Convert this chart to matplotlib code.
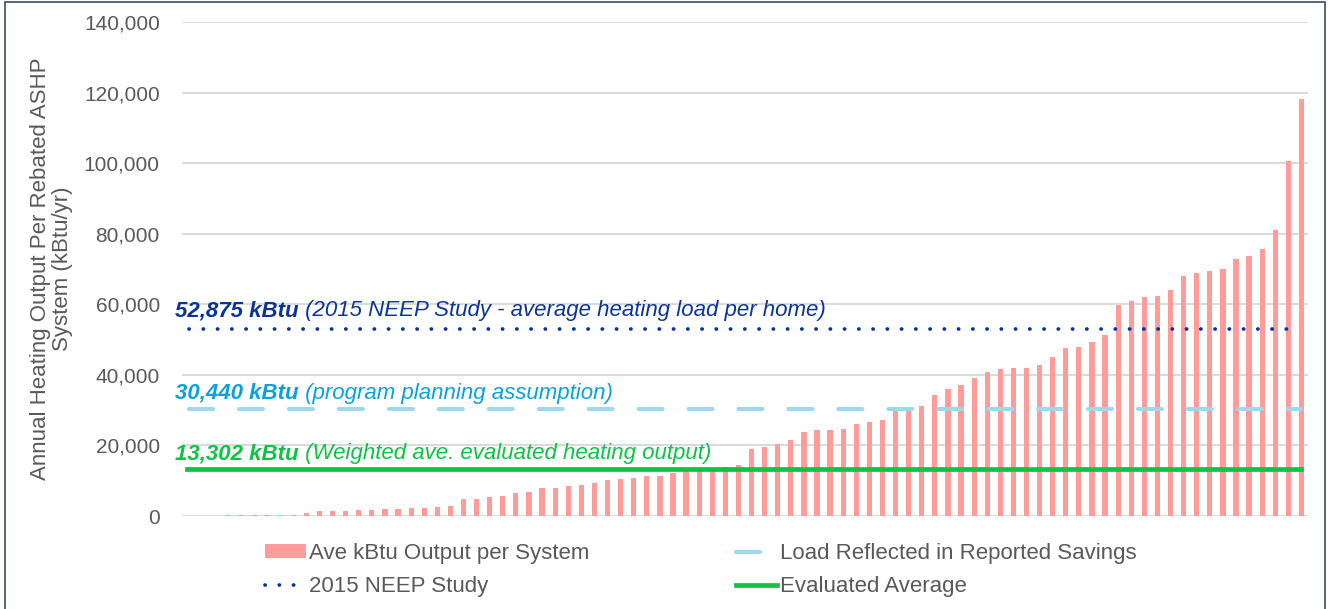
import numpy as np
import matplotlib
matplotlib.use('Agg')
import matplotlib.pyplot as plt
from matplotlib.lines import Line2D
from matplotlib.patches import Patch, Rectangle

plt.rcParams['font.family'] = ['Liberation Sans', 'DejaVu Sans']

# sorted annual heating output per system (kBtu/yr)
output_kbtu = [
    0, 0, 0,
    300, 300, 300, 300, 400, 400, 900, 1300, 1500, 1500, 1700, 1800,
    2000, 2000, 2200, 2300, 2650, 2850, 4700, 4800, 5500, 5650, 6500, 6800, 8000, 8000, 8500,
    8900, 9450, 10200, 10600, 10800, 11400, 11400, 12200, 12750, 12950, 13000, 13900, 14550, 19000,
    19650, 20300, 21550, 23800, 24450, 24450, 24650, 26000, 26650, 27200, 29750, 29750, 31100, 34300, 36100,
    37200, 39100, 40900, 41550, 41950, 42000, 42700, 45150, 47500, 47950, 49300, 51300, 59800, 61000,
    62050, 62350, 64050, 67900, 68950, 69400, 70100, 72700, 73750, 75550, 80950, 100600, 118050,
]

neep_load = 52875
planning_load = 30440
evaluated_avg = 13302

yticks = [0, 20000, 40000, 60000, 80000, 100000, 120000, 140000]

label_neep = ('52,875 kBtu', ' (2015 NEEP Study - average heating load per home)')
label_plan = ('30,440 kBtu', ' (program planning assumption)')
label_eval = ('13,302 kBtu', ' (Weighted ave. evaluated heating output)')

bar_col = '#ff9b9b'
navy = '#0a3596'
lblue = '#9ed8ef'
lblue_txt = '#0aa2dc'
green = '#0cc444'
grey = '#595959'
fs = 16

fig = plt.figure(figsize=(13.28, 6.09), dpi=100)
ax = fig.add_axes([182/1328, 1 - 516/609, 1126/1328, 494/609])

x = np.arange(len(output_kbtu))
ax.bar(x, output_kbtu, width=0.4, color=bar_col, zorder=2)

x0, x1 = x[0], x[-1]
ax.plot([x0, x1 - 0.6], [neep_load, neep_load], color=navy, lw=2.7,
        linestyle=(0, (0.05, 3.75)), dash_capstyle='round', zorder=3)
ax.plot([x0, x1], [planning_load, planning_load], color=lblue, lw=2.9,
        linestyle=(0, (6.0, 6.4)), dash_capstyle='round', zorder=3)
ax.plot([x0 - 0.1, x1], [evaluated_avg, evaluated_avg], color=green, lw=3.4, zorder=3)

ax.set_xlim(-0.5, len(output_kbtu) - 0.5)
ax.set_ylim(0, 140000)
ax.set_yticks(yticks)
ax.set_yticklabels(['{:,}'.format(v) for v in yticks])
ax.set_xticks([])
ax.tick_params(axis='y', length=0, pad=16, labelsize=15, labelcolor=grey)
for s in ax.spines.values():
    s.set_visible(False)
ax.grid(axis='y', color='#d9d9d9', lw=1.4, zorder=0)
ax.set_axisbelow(True)

ax.set_ylabel('Annual Heating Output Per Rebated ASHP\nSystem (kBtu/yr)',
              fontsize=fs, color=grey, labelpad=8, linespacing=1.05)

# annotations: bold value followed by italic note
trans = ax.get_yaxis_transform()
for (bold, rest), yv, col in [(label_neep, 58100, navy),
                             (label_plan, 34850, lblue_txt),
                             (label_eval, 17600, green)]:
    t1 = ax.text(-0.006, yv, bold, transform=trans, fontsize=fs, fontweight='bold',
                 fontstyle='italic', color=col, va='center', ha='left', zorder=4)
    ax.annotate(rest, xy=(1, 0), xycoords=t1, va='bottom', ha='left', fontsize=fs,
                fontstyle='italic', color=col, zorder=4)

handles = [
    Patch(facecolor=bar_col, edgecolor='none'),
    Line2D([], [], color=navy, lw=2.7, linestyle=(0, (0.05, 3.75)), dash_capstyle='round'),
    Line2D([], [], color=lblue, lw=2.9, linestyle=(0, (6.0, 6.4)), dash_capstyle='round'),
    Line2D([], [], color=green, lw=3.4),
]
labels = ['Ave kBtu Output per System', '2015 NEEP Study',
          'Load Reflected in Reported Savings', 'Evaluated Average']
fig.legend(handles, labels, ncol=2, loc='upper left', bbox_to_anchor=(265/1328, 1 - 543/609),
           frameon=False, fontsize=fs, labelcolor=grey, handlelength=1.85,
           handleheight=0.6, handletextpad=0.14, columnspacing=6.6, labelspacing=0.55,
           borderpad=0, borderaxespad=0)

fig.add_artist(Rectangle((5/1328, -0.05), 1320/1328, 1.05 - 2/609, transform=fig.transFigure,
                         fill=False, edgecolor='#3b4a6b', lw=1.2))

fig.savefig('out.png', dpi=100)
